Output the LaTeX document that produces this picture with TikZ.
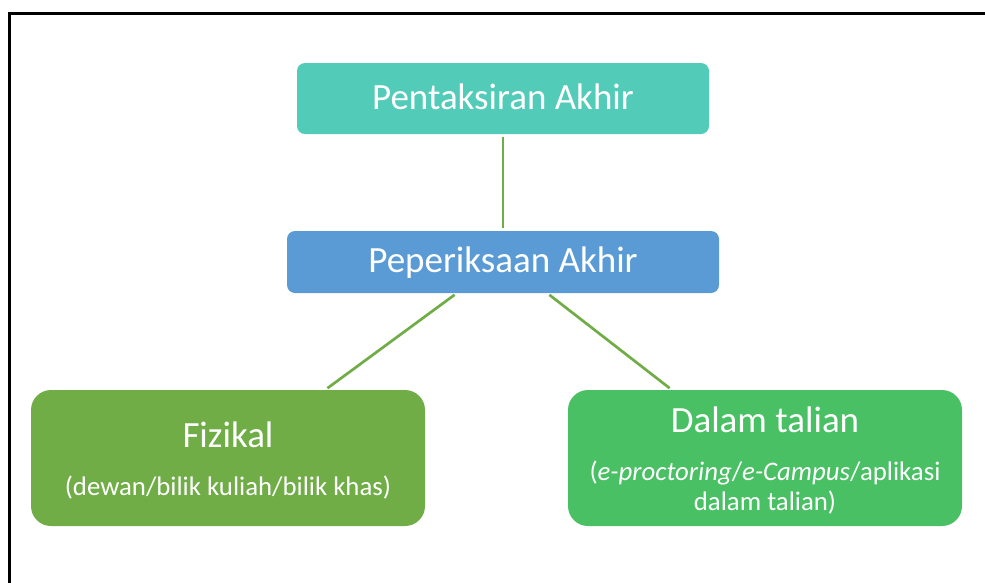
\documentclass[tikz,border=0pt]{standalone}
\usepackage{fontspec}
\setmainfont{Carlito}
\usetikzlibrary{positioning}
\definecolor{tealbox}{RGB}{83,203,185}
\definecolor{bluebox}{RGB}{91,155,213}
\definecolor{greenbox}{RGB}{112,173,71}
\definecolor{onlinebox}{RGB}{73,192,100}
\definecolor{linkgreen}{RGB}{112,173,71}
\newcommand{\bigtext}{\fontsize{37}{40}\selectfont}
\newcommand{\subtext}{\fontsize{26.8}{30}\selectfont}

\begin{document}
\begin{tikzpicture}[x=1pt,y=-1pt]
\useasboundingbox (0,0) rectangle (985,582);
\tikzstyle{every node}=[inner sep=0pt, outer sep=0pt]
\tikzstyle{box}=[rounded corners=8pt, minimum height=62pt]
\tikzstyle{bigbox}=[rounded corners=20pt, minimum width=394pt, minimum height=136pt]
\tikzstyle{boxtext}=[anchor=base, text=white]
\tikzstyle{link}=[linkgreen, line width=2.7pt, shorten <=3pt, shorten >=3pt]

% frame
\draw[line width=2.8pt] (9.7,13.7) rectangle (1000,600);

% boxes
\node[box, fill=tealbox, minimum width=412pt, minimum height=71pt] (pent) at (503,98.5) {};
\node[box, fill=bluebox, minimum width=432pt] (peper) at (503,262) {};
\node[bigbox, fill=greenbox] (fiz) at (228,458) {};
\node[bigbox, fill=onlinebox] (dal) at (765,458) {};

% texts
\node[boxtext] (pentlbl) at (503,109) {\bigtext Pentaksiran Akhir};
\node[boxtext] (peperlbl) at (503,272) {\bigtext Peperiksaan Akhir};
\node[boxtext] (fizlbl) at (228,447) {\bigtext Fizikal};
\node[boxtext] (fizsub) at (228,495) {\subtext (dewan/bilik kuliah/bilik khas)};
\node[boxtext] (dallbl) at (765,432) {\bigtext Dalam talian};
\node[boxtext] (dalsubA) at (765,480) {\subtext (\textit{e-proctoring}/\textit{e-Campus}/aplikasi};
\node[boxtext] (dalsubB) at (765,510) {\subtext dalam talian)};

% links
\draw[link] (pent.south) -- (peper.north);
\draw[link] ([xshift=-46pt]peper.south) -- ([xshift=97pt]fiz.north);
\draw[link] ([xshift=44pt]peper.south) -- ([xshift=-93pt]dal.north);
\end{tikzpicture}
\end{document}
